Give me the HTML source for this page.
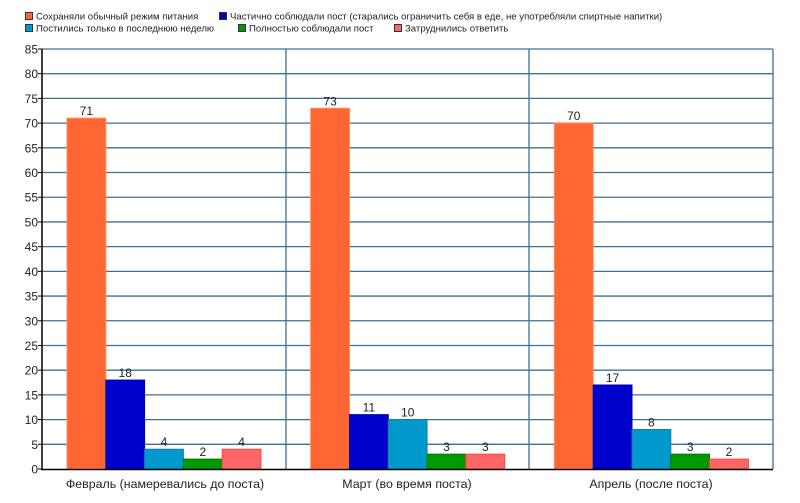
<!DOCTYPE html>
<html><head><meta charset="utf-8"><style>body{margin:0;background:#fff}svg{display:block}text{font-family:"Liberation Sans",sans-serif}</style></head><body>
<svg width="800" height="503" xmlns="http://www.w3.org/2000/svg">
<g font-size="9.6" fill="#222">
<rect x="25.5" y="12.5" width="7" height="7" fill="#ff6633" stroke="#333"/><text x="36" y="19.5">Сохраняли обычный режим питания</text>
<rect x="219.5" y="12.5" width="7" height="7" fill="#0000cc" stroke="#333"/><text x="230" y="19.5">Частично соблюдали пост (старались ограничить себя в еде, не употребляли спиртные напитки)</text>
<rect x="25.5" y="24.5" width="7" height="7" fill="#0099cc" stroke="#333"/><text x="36" y="31.5">Постились только в последнюю неделю</text>
<rect x="238.5" y="24.5" width="7" height="7" fill="#009900" stroke="#333"/><text x="249" y="31.5">Полностью соблюдали пост</text>
<rect x="394.5" y="24.5" width="7" height="7" fill="#ff6666" stroke="#333"/><text x="405" y="31.5">Затруднились ответить</text>
</g>
<g id="grid" stroke="#3f6f96" stroke-width="1.3"></g>
<g id="bars"></g>
<g id="lbl" font-size="12" fill="#222"></g>
<line x1="42" y1="49" x2="42" y2="470" stroke="#000" stroke-width="1.5"/>
<line x1="41" y1="469.5" x2="773" y2="469.5" stroke="#000" stroke-width="1.5"/>
<g font-size="12.4" fill="#222" text-anchor="middle">
<text x="165" y="488">Февраль (намеревались до поста)</text>
<text x="407" y="488">Март (во время поста)</text>
<text x="651" y="488">Апрель (после поста)</text>
</g>
<script>
var ns="http://www.w3.org/2000/svg";
function el(p,t,a,txt){var e=document.createElementNS(ns,t);for(var k in a)e.setAttribute(k,a[k]);if(txt!=null)e.textContent=txt;document.getElementById(p).appendChild(e);}
function Y(v){return 469-v*420/85;}
for(var v=5;v<=85;v+=5){el('grid','line',{x1:42,x2:773,y1:Y(v),y2:Y(v)});}
for(var v=0;v<=85;v+=5){el('lbl','text',{x:38,y:Y(v)+4.5,'text-anchor':'end'},v);el('lbl','line',{x1:38,x2:42,y1:Y(v),y2:Y(v),stroke:'#000'});}
[286,529,773].forEach(function(x){el('grid','line',{x1:x,x2:x,y1:49,y2:469});});
var cols=['#ff6633','#0000cc','#0099cc','#009900','#ff6666'];
var strokes=['#ff8855','#0000aa','#2277aa','#007700','#ff4444'];
var data=[[71,18,4,2,4],[73,11,10,3,3],[70,17,8,3,2]];
for(var g=0;g<3;g++)for(var i=0;i<5;i++){var x=67+g*243.7+i*38.8,v=data[g][i];
el('bars','rect',{x:x,y:Y(v),width:38.8,height:469-Y(v),fill:cols[i],stroke:strokes[i],'stroke-width':1});
el('lbl','text',{x:x+19.4,y:Y(v)-3,'text-anchor':'middle'},v);}
</script>
</svg>
</body></html>
